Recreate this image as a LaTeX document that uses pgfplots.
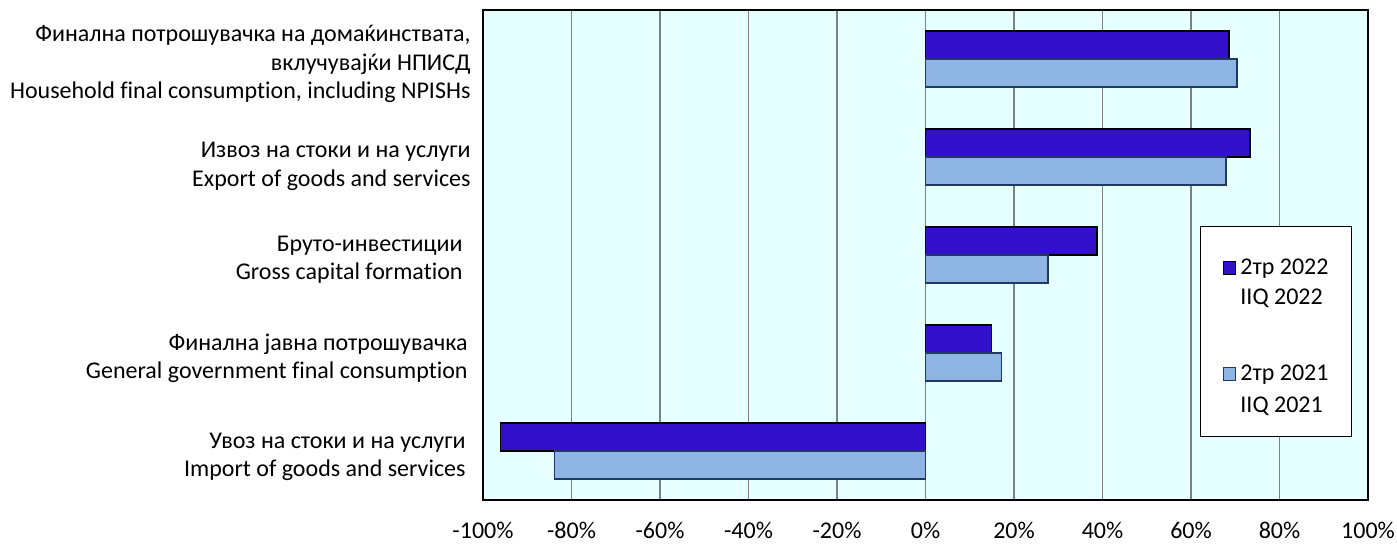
\documentclass[border=0pt]{standalone}
\usepackage{fontspec}
\setmainfont{Carlito}[Ligatures=CommonOff]
\usepackage{pgfplots}
\pgfplotsset{compat=1.18}
\definecolor{bgcyan}{RGB}{230,255,255}
\definecolor{q22}{RGB}{51,17,204}
\definecolor{q21}{RGB}{141,180,226}
\definecolor{q21edge}{RGB}{31,56,100}

% category label: right aligned lines, last baseline at tick + #1
\newcommand{\catlabel}[2]{\raisebox{#1}[0pt][0pt]{\begin{tabular}[b]{@{}r@{}}#2\end{tabular}}}

\begin{document}
\begin{tikzpicture}
\useasboundingbox (-241.5pt,-23pt) rectangle (457pt,250pt);
\begin{axis}[
  scale only axis, width=442.5pt, height=245pt,
  xbar, bar width=14pt,
  xmin=-100, xmax=100, ymin=-0.5, ymax=4.5,
  axis background/.style={fill=bgcyan},
  axis line style={black, line width=1.2pt},
  xtick={-100,-80,...,100},
  xticklabels={-100\%,-80\%,-60\%,-40\%,-20\%,0\%,20\%,40\%,60\%,80\%,100\%},
  xmajorgrids, grid style={gray, line width=0.6pt},
  major tick length=0pt,
  ytick={0,1,2,3,4},
  yticklabels={
    {\catlabel{-12.975pt}{Увоз на стоки и на услуги\hspace*{2.5pt}\\Import of goods and services\hspace*{2.5pt}}},
    {\catlabel{-12.975pt}{Финална јавна потрошувачка\hspace*{1.5pt}\\General government final consumption\hspace*{1.5pt}}},
    {\catlabel{-12.475pt}{Бруто-инвестиции\hspace*{4pt}\\Gross capital formation\hspace*{4pt}}},
    {\catlabel{-14.725pt}{Извоз на стоки и на услуги\\Export of goods and services}},
    {\catlabel{-19.85pt}{Финална потрошувачка на домаќинствата,\\вклучувајќи НПИСД\\Household final consumption, including NPISHs}}},
  tick label style={font=\fontsize{12}{14.25}\selectfont},
  yticklabel style={inner sep=0pt, xshift=-6pt},
  xticklabel style={inner sep=0pt, yshift=-11pt},
  legend style={at={(0.982,0.559)}, anchor=north east, draw=black,
    line width=0.5pt, fill=white, inner xsep=11.5pt, inner ysep=10.5pt,
    row sep=0pt, column sep=2pt, font=\fontsize{12}{14.25}\selectfont,
    nodes={inner sep=0pt}, cells={anchor=base west}},
  legend image code/.code={\draw[#1,/tikz/.cd,line width=0.6pt] (0pt,0pt) rectangle (6pt,6.5pt);},
]
\addplot[fill=q22, draw=black, line width=0.8pt, bar shift=7pt]
  coordinates {(-96.0,0) (14.9,1) (38.7,2) (73.4,3) (68.6,4)};
\addlegendentry{\rule[-4.5pt]{0pt}{18pt}2тр 2022}
\addlegendimage{empty legend}
\addlegendentry{\rule[-4.5pt]{0pt}{18pt}IIQ 2022}
\addplot[fill=q21, draw=q21edge, line width=0.6pt, bar shift=-7pt]
  coordinates {(-83.8,0) (17.1,1) (27.7,2) (67.9,3) (70.4,4)};
\addlegendentry{\rule[-4.5pt]{0pt}{41pt}2тр 2021}
\addlegendimage{empty legend}
\addlegendentry{\rule[-6.5pt]{0pt}{21pt}IIQ 2021}
\end{axis}
\end{tikzpicture}
\end{document}
